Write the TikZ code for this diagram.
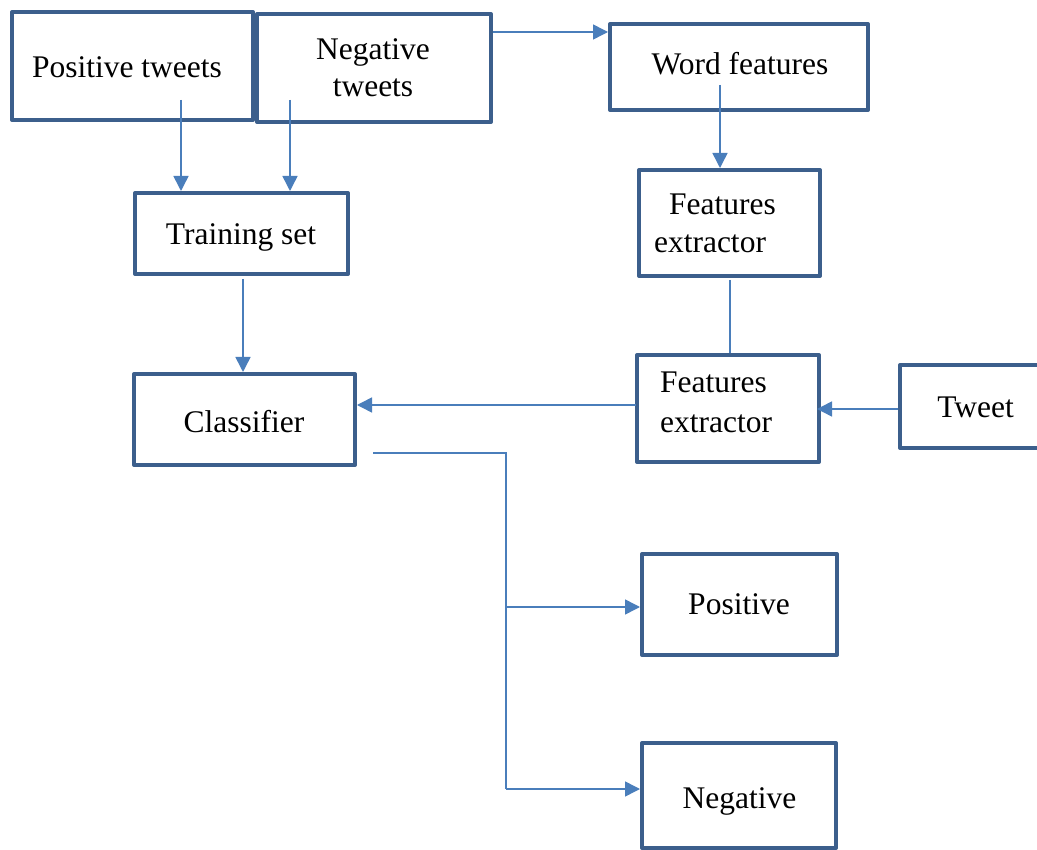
\documentclass[tikz,border=0pt]{standalone}
\usepackage{fontspec}
\setmainfont{Liberation Serif}
\usetikzlibrary{arrows.meta,calc}
\definecolor{boxblue}{RGB}{60,95,140}
\definecolor{arrblue}{RGB}{74,126,187}
\tikzset{
  box/.style={draw=boxblue, line width=4pt, line join=round, rectangle, inner sep=0pt, fill=white},
  txt/.style={inner sep=0pt, font=\fontsize{31.5}{37}\selectfont, text=black},
  arr/.style={draw=arrblue, line width=1.5pt, -{Triangle[length=15pt,width=15pt]}},
  ln/.style={draw=arrblue, line width=1.5pt}
}
\begin{document}
\begin{tikzpicture}[x=1pt,y=-1pt]
\useasboundingbox (0,0) rectangle (1037,850);
\clip (0,0) rectangle (1037,850);
\fill[white] (0,0) rectangle (1037,850);

% boxes
\node[box, minimum width=241pt, minimum height=108pt] (pt) at (132.5,66) {};
\node[box, minimum width=234pt, minimum height=108pt] (nt) at (374,68) {};
\node[box, minimum width=258pt, minimum height=86pt] (wf) at (739,67) {};
\node[box, minimum width=213pt, minimum height=81pt] (ts) at (241.5,233.5) {};
\node[box, minimum width=181pt, minimum height=106pt] (fe1) at (729.5,223) {};
\node[box, minimum width=182pt, minimum height=107pt] (fe2) at (728,408.5) {};
\node[box, minimum width=150pt, minimum height=83pt] (tw) at (975,406.5) {};
\node[box, minimum width=221pt, minimum height=91pt] (cl) at (244.5,419.5) {};
\node[box, minimum width=195pt, minimum height=101pt] (ps) at (739.5,604.5) {};
\node[box, minimum width=194pt, minimum height=105pt] (ng) at (739,795.5) {};

% texts
\node[txt, anchor=base] (tpt) at (127,78) {Positive tweets};
\node[txt, anchor=base] (tnt1) at (373,60) {Negative};
\node[txt, anchor=base] (tnt2) at (373,97) {tweets};
\node[txt, anchor=base] (twf) at (740,75) {Word features};
\node[txt, anchor=base] (tts) at (241,245) {Training set};
\node[txt, anchor=base] (tfe1a) at (722.5,215) {Features};
\node[txt, anchor=base] (tfe1b) at (710,253) {extractor};
\node[txt, anchor=base west] (tfe2a) at (660,393) {Features};
\node[txt, anchor=base west] (tfe2b) at (660,432) {extractor};
\node[txt, anchor=base] (ttw) at (975.5,418) {Tweet};
\node[txt, anchor=base] (tcl) at (244,432) {Classifier};
\node[txt, anchor=base] (tps) at (739,614) {Positive};
\node[txt, anchor=base] (tng) at (739.5,808) {Negative};

% connector start points
\coordinate (s1) at (181,100);
\coordinate (s2) at (290,100);
\coordinate (s3) at (493,32);
\coordinate (s4) at (720,85);
\coordinate (s5) at (243,279);
\coordinate (s6) at (730,280);
\coordinate (s7) at (636,405);
\coordinate (s8) at (898,409);
\coordinate (s9) at (373,453);
\coordinate (j1) at (506,453);
\coordinate (j2) at (506,607);
\coordinate (j3) at (506,789);

% connectors
\draw[arr] (s1) -- (s1 |- ts.north);
\draw[arr] (s2) -- (s2 |- ts.north);
\draw[arr] (s3) -- (s3 -| wf.west);
\draw[arr] (s4) -- (s4 |- fe1.north);
\draw[arr] (s5) -- (s5 |- cl.north);
\draw[ln] (s6) -- (s6 |- fe2.north);
\draw[arr] (s7) -- (s7 -| cl.east);
\draw[arr, shorten >=-4pt] (s8) -- (s8 -| fe2.east);
\draw[ln] (s9) -- (j1) -- (j3);
\draw[arr] (j3) -- (j3 -| ng.west);
\draw[arr] (j2) -- (j2 -| ps.west);
\end{tikzpicture}
\end{document}
